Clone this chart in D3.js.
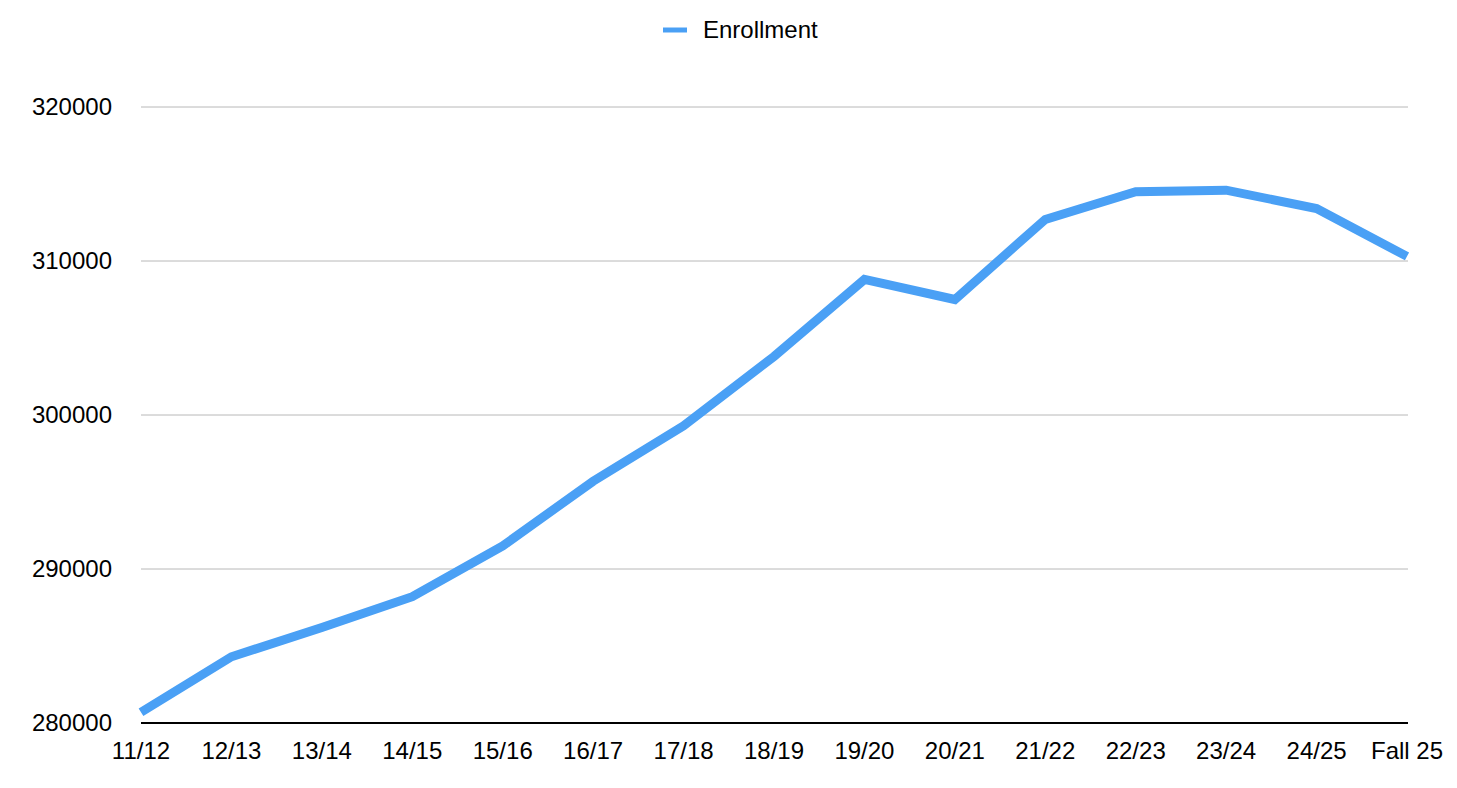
<!DOCTYPE html>
<html><head><meta charset="utf-8">
<script src="https://cdn.jsdelivr.net/npm/d3@7"></script>
<style>body{margin:0;background:#fff}svg{display:block}text{font-family:"Liberation Sans",Arial,Helvetica,sans-serif}</style>
</head><body>
<svg id="c" width="1457" height="788"></svg>
<script>
const categories = ["11/12","12/13","13/14","14/15","15/16","16/17","17/18","18/19","19/20","20/21","21/22","22/23","23/24","24/25","Fall 25"];
const enrollment = [280700,284300,286200,288200,291500,295700,299300,303800,308800,307500,312700,314500,314600,313400,310300];
const yTicks = [280000,290000,300000,310000,320000];
const seriesName = "Enrollment";

const svg = d3.select("#c");
const mLeft = 141, mRight = 1407, mTop = 107, mBottom = 723;
const x = d3.scalePoint().domain(categories).range([mLeft, mRight]);
const y = d3.scaleLinear().domain([280000, 320000]).range([mBottom, mTop]);

// gridlines
svg.append("g").selectAll("line").data(yTicks.slice(1)).join("line")
  .attr("x1", mLeft).attr("x2", mRight + 1)
  .attr("y1", d => y(d)).attr("y2", d => y(d))
  .attr("stroke", "#b8b8b8").attr("stroke-width", 1);

// y labels
svg.append("g").selectAll("text").data(yTicks).join("text")
  .attr("x", 112).attr("y", d => y(d)).attr("dy", "0.35em")
  .attr("text-anchor", "end").attr("font-size", 24).attr("fill", "#000")
  .text(d => d);

// line
svg.append("path").datum(enrollment)
  .attr("fill", "none").attr("stroke", "#4aa0f5").attr("stroke-width", 9)
  .attr("stroke-linejoin", "miter")
  .attr("d", d3.line().x((d, i) => x(categories[i])).y(d => y(d)));

// x axis line
svg.append("line").attr("x1", mLeft).attr("x2", mRight + 1)
  .attr("y1", mBottom).attr("y2", mBottom).attr("stroke", "#000").attr("stroke-width", 2);

// x labels
svg.append("g").selectAll("text").data(categories).join("text")
  .attr("x", d => x(d)).attr("y", 759)
  .attr("text-anchor", "middle").attr("font-size", 24).attr("fill", "#000")
  .text(d => d);

// legend
svg.append("line").attr("x1", 663).attr("x2", 687).attr("y1", 30).attr("y2", 30)
  .attr("stroke", "#4aa0f5").attr("stroke-width", 5);
svg.append("text").attr("x", 703).attr("y", 30).attr("dy", "0.35em")
  .attr("font-size", 24).attr("fill", "#000").text(seriesName);
</script>
</body></html>
